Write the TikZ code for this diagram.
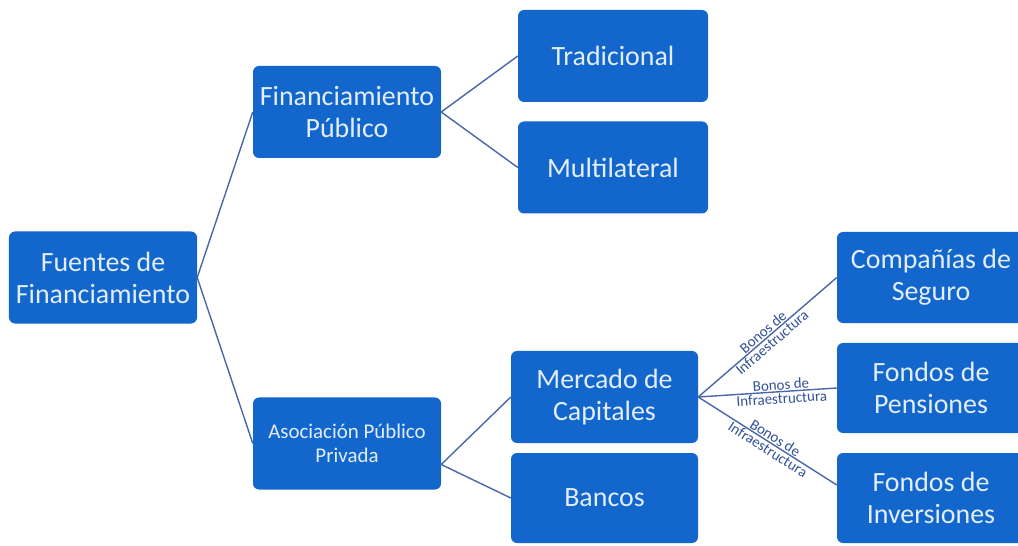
\documentclass[tikz,border=0pt]{standalone}
\usepackage{fontspec}
\setmainfont{Carlito}
\definecolor{boxblue}{RGB}{18,102,204}
\definecolor{boxtext}{RGB}{226,238,250}
\definecolor{linkcol}{RGB}{72,102,168}
\definecolor{lblcol}{RGB}{50,80,150}
\begin{document}
\begin{tikzpicture}[x=1bp,y=-1bp,
  box/.style={draw=none, fill=boxblue, rounded corners=6bp, text=boxtext,
    align=center, inner sep=0pt, minimum width=#1, minimum height=92bp},
  box/.default=188bp,
  big/.style={font=\fontsize{28}{32}\selectfont},
  small/.style={font=\fontsize{21}{24}\selectfont},
  link/.style={draw=linkcol, line width=1.4bp},
  lbl/.style={text=lblcol, inner sep=1bp,
    font=\fontsize{15}{17}\selectfont}]
\useasboundingbox (0,0) rectangle (1018,546);
\begin{scope}
\clip (0,0) rectangle (1018,546);
\node[box, big] (fuentes) at (103,277.5) {Fuentes de\\Financiamiento};
\node[box, big] (finpub) at (347,112) {Financiamiento\\Público};
\node[box, small] (asoc) at (347,443.5) {Asociación Público\\Privada};
\node[box=190bp, big] (trad) at (613,56) {Tradicional};
\node[box=190bp, big] (multi) at (613,167.5) {Multilateral};
\node[box=187bp, big] (merc) at (604.5,397) {Mercado de\\Capitales};
\node[box=187bp, big, minimum height=90bp] (bancos) at (604.5,498) {Bancos};
\node[box, big, minimum height=91bp] (comp) at (931,277.5) {Compañías de\\Seguro};
\node[box, big, minimum height=90bp] (pens) at (931,388) {Fondos de\\Pensiones};
\node[box, big, minimum height=90bp] (inv) at (931,498) {Fondos de\\Inversiones};
\end{scope}
\draw[link] (finpub.west) -- (fuentes.east) -- (asoc.west);
\draw[link] (trad.west) -- (finpub.east) -- (multi.west);
\draw[link] (merc.west) -- ([yshift=-21bp]asoc.east) -- (bancos.west);
\draw[link] (merc.east) -- (comp.west)
  node[pos=0.5, sloped, lbl, above] (l1a) {Bonos de}
  node[pos=0.5, sloped, lbl, below] (l1b) {Infraestructura};
\draw[link] (merc.east) -- (pens.west)
  node[pos=0.6, sloped, lbl, above] (l2a) {Bonos de}
  node[pos=0.6, sloped, lbl, below] (l2b) {Infraestructura};
\draw[link] (merc.east) -- ([yshift=13bp]inv.west)
  node[pos=0.53, sloped, lbl, above] (l3a) {Bonos de}
  node[pos=0.53, sloped, lbl, below] (l3b) {Infraestructura};
\end{tikzpicture}
\end{document}
